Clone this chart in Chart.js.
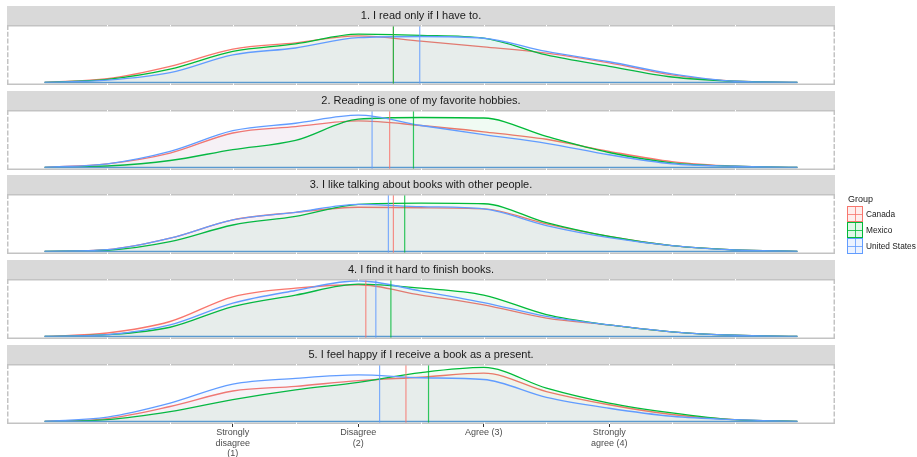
<!DOCTYPE html>
<html>
<head>
<meta charset="utf-8">
<script src="https://cdn.jsdelivr.net/npm/chart.js@4.4.1/dist/chart.umd.min.js"></script>
<style>
  html, body { margin: 0; padding: 0; background: #ffffff; }
  body { width: 917px; height: 457px; position: relative; overflow: hidden;
         font-family: "Liberation Sans", Arial, Helvetica, sans-serif; }
  .panel { position: absolute; left: 0; }
  .legend-title { position: absolute; left: 848px; top: 193px; font-size: 9px; line-height: 12px; color: #1a1a1a; }
  .key { position: absolute; left: 847px; width: 16px; height: 16px; box-sizing: border-box; border: 1px solid; }
  .key .v { position: absolute; left: 6.5px; top: 0; width: 1px; height: 100%; }
  .key .h { position: absolute; top: 6.5px; left: 0; height: 1px; width: 100%; }
  .key-label { position: absolute; left: 866px; font-size: 8.3px; line-height: 16px; color: #1a1a1a; white-space: nowrap; }
</style>
</head>
<body>
<div id="panels"></div>
<div id="legend"></div>
<script>
// ---- survey items (facets) and groups ----
const questions = [
  '1. I read only if I have to.',
  '2. Reading is one of my favorite hobbies.',
  '3. I like talking about books with other people.',
  '4. I find it hard to finish books.',
  '5. I feel happy if I receive a book as a present.'
];
const groups = ['Canada', 'Mexico', 'United States'];

// ---- density estimates, evaluated on a common grid of response values ----
const densityX = [-0.5, 0, 0.5, 1, 1.5, 2, 2.5, 3, 3.5, 4, 4.5, 5, 5.5];

const canadaDensity = [
  [0, 0.064, 0.28, 0.58, 0.69, 0.81, 0.72, 0.62, 0.51, 0.34, 0.13, 0.02, 0],
  [0, 0.063, 0.25, 0.60, 0.71, 0.81, 0.73, 0.62, 0.49, 0.28, 0.10, 0.02, 0],
  [0, 0.03, 0.23, 0.55, 0.68, 0.77, 0.76, 0.74, 0.48, 0.26, 0.10, 0.025, 0],
  [0, 0.06, 0.26, 0.69, 0.84, 0.90, 0.72, 0.55, 0.32, 0.20, 0.08, 0.02, 0],
  [0, 0.05, 0.26, 0.53, 0.61, 0.71, 0.77, 0.84, 0.52, 0.29, 0.12, 0.03, 0]
];
const mexicoDensity = [
  [0, 0.052, 0.23, 0.54, 0.67, 0.84, 0.82, 0.77, 0.48, 0.28, 0.094, 0.02, 0],
  [0, 0.024, 0.12, 0.31, 0.47, 0.84, 0.87, 0.86, 0.54, 0.26, 0.08, 0.02, 0],
  [0, 0.02, 0.17, 0.46, 0.61, 0.82, 0.84, 0.83, 0.50, 0.26, 0.10, 0.025, 0],
  [0, 0.03, 0.16, 0.52, 0.72, 0.91, 0.84, 0.72, 0.38, 0.20, 0.08, 0.02, 0],
  [0, 0.03, 0.17, 0.38, 0.55, 0.68, 0.85, 0.94, 0.58, 0.32, 0.15, 0.03, 0]
];
const usDensity = [
  [0, 0.04, 0.17, 0.48, 0.60, 0.78, 0.80, 0.77, 0.54, 0.36, 0.15, 0.02, 0],
  [0, 0.063, 0.28, 0.64, 0.77, 0.91, 0.73, 0.57, 0.42, 0.22, 0.064, 0.02, 0],
  [0, 0.03, 0.23, 0.55, 0.68, 0.82, 0.78, 0.74, 0.45, 0.24, 0.10, 0.025, 0],
  [0, 0.03, 0.20, 0.58, 0.80, 0.97, 0.79, 0.59, 0.35, 0.20, 0.08, 0.02, 0],
  [0, 0.076, 0.32, 0.65, 0.75, 0.81, 0.76, 0.73, 0.42, 0.23, 0.09, 0.03, 0]
];

// ---- group means per item (vertical reference lines) ----
const canadaMean = [2.28, 2.25, 2.28, 2.06, 2.38];
const mexicoMean = [2.28, 2.44, 2.37, 2.26, 2.56];
const usMean     = [2.49, 2.11, 2.24, 2.14, 2.17];

// ---- x axis ticks ----
const tickValues = [1, 2, 3, 4];
const tickLabels = [
  ['Strongly', 'disagree', '(1)'],
  ['Disagree', '(2)'],
  ['Agree (3)'],
  ['Strongly', 'agree (4)']
];

// ---- appearance ----
const groupColors = ['#F8766D', '#00BA38', '#619CFF'];
const densityByGroup = [canadaDensity, mexicoDensity, usDensity];
const meanByGroup = [canadaMean, mexicoMean, usMean];
const FONT = '"Liberation Sans", Arial, Helvetica, sans-serif';
const X_MIN = -0.8, X_MAX = 5.8, Y_MIN = -0.045, Y_MAX = 1.0;
const STRIP_H = 19, PLOT_H = 60, AXIS_H = 33;
const PLOT_LEFT = 7, PLOT_RIGHT = 835, PAGE_W = 917;
const plotTops = [25, 110, 194, 279, 364];

function rgba(hex, a) {
  const n = parseInt(hex.slice(1), 16);
  return `rgba(${(n >> 16) & 255},${(n >> 8) & 255},${n & 255},${a})`;
}

// Facet strip, white panel and panel frame
const facetDecor = {
  id: 'facetDecor',
  beforeDraw(chart, args, opts) {
    const { ctx, chartArea: a } = chart;
    ctx.save();
    ctx.fillStyle = '#ffffff';
    ctx.fillRect(a.left, a.top, a.right - a.left, a.bottom - a.top);
    ctx.fillStyle = '#d9d9d9';
    ctx.fillRect(a.left, a.top - STRIP_H, a.right - a.left, STRIP_H);
    ctx.fillStyle = '#1a1a1a';
    ctx.font = '11px ' + FONT;
    ctx.textAlign = 'center';
    ctx.textBaseline = 'middle';
    ctx.fillText(opts.title, (a.left + a.right) / 2, a.top - STRIP_H / 2 + 0.5);
    ctx.restore();
  },
  afterDatasetsDraw(chart) {
    const { ctx, chartArea: a } = chart;
    const xs = chart.scales.x;
    ctx.save();
    ctx.strokeStyle = '#c3c3c3';
    ctx.lineWidth = 1.5;
    ctx.beginPath();
    ctx.moveTo(a.left, a.top + 0.75); ctx.lineTo(a.right, a.top + 0.75);
    ctx.moveTo(a.left, a.bottom - 0.75); ctx.lineTo(a.right, a.bottom - 0.75);
    ctx.stroke();
    ctx.setLineDash([5, 1.8]);
    ctx.beginPath();
    ctx.moveTo(a.left + 0.75, a.top); ctx.lineTo(a.left + 0.75, a.bottom);
    ctx.moveTo(a.right - 0.75, a.top); ctx.lineTo(a.right - 0.75, a.bottom);
    ctx.stroke();
    ctx.setLineDash([]);
    // white grid notches crossing the frame
    ctx.strokeStyle = '#ffffff';
    ctx.lineWidth = 1;
    ctx.beginPath();
    for (let v = 0; v <= 5; v += 0.5) {
      const px = Math.round(xs.getPixelForValue(v)) + 0.5;
      ctx.moveTo(px, a.top); ctx.lineTo(px, a.top + 1.5);
      ctx.moveTo(px, a.bottom - 1.5); ctx.lineTo(px, a.bottom);
    }
    ctx.stroke();
    ctx.restore();
  }
};

const panelsEl = document.getElementById('panels');

questions.forEach((title, q) => {
  const last = q === questions.length - 1;
  const h = STRIP_H + PLOT_H + (last ? AXIS_H : 0);
  const wrap = document.createElement('div');
  wrap.className = 'panel';
  wrap.style.top = (plotTops[q] - STRIP_H) + 'px';
  wrap.style.width = PAGE_W + 'px';
  wrap.style.height = h + 'px';
  const canvas = document.createElement('canvas');
  canvas.width = PAGE_W;
  canvas.height = h;
  canvas.style.width = PAGE_W + 'px';
  canvas.style.height = h + 'px';
  wrap.appendChild(canvas);
  panelsEl.appendChild(wrap);

  const densitySets = groups.map((g, i) => ({
    label: g,
    data: densityX.map((x, k) => ({ x, y: densityByGroup[i][q][k] })),
    borderColor: groupColors[i],
    backgroundColor: rgba(groupColors[i], 0.06),
    fill: 'origin',
    borderWidth: 1.35,
    pointRadius: 0,
    cubicInterpolationMode: 'monotone',
    order: 10 - i
  }));
  const baseline = {
    label: 'baseline',
    data: [{ x: densityX[0], y: 0 }, { x: densityX[densityX.length - 1], y: 0 }],
    borderColor: '#5a9ad0',
    borderWidth: 1.5,
    pointRadius: 0,
    fill: false,
    order: 5
  };
  const meanSets = groups.map((g, i) => ({
    label: g + ' mean',
    data: [{ x: meanByGroup[i][q], y: Y_MIN }, { x: meanByGroup[i][q], y: Y_MAX }],
    borderColor: rgba(groupColors[i], 0.8),
    borderWidth: 1.2,
    pointRadius: 0,
    fill: false,
    order: 3 - i
  }));

  const xScale = {
    type: 'linear',
    min: X_MIN,
    max: X_MAX,
    display: last,
    border: { display: false },
    grid: { drawOnChartArea: false, drawTicks: true, tickLength: 3, color: '#333333', lineWidth: 1 },
    afterBuildTicks: (s) => { s.ticks = tickValues.map(v => ({ value: v })); },
    ticks: {
      autoSkip: false,
      maxRotation: 0,
      minRotation: 0,
      padding: 0.5,
      color: '#4d4d4d',
      font: { size: 9, family: FONT, lineHeight: 1.15 },
      callback: (v) => {
        const k = tickValues.indexOf(v);
        return k >= 0 ? tickLabels[k] : '';
      }
    }
  };
  if (last) xScale.afterFit = (s) => { s.height = AXIS_H; };

  new Chart(canvas, {
    type: 'line',
    data: { datasets: [...densitySets, baseline, ...meanSets] },
    plugins: [facetDecor],
    options: {
      responsive: false,
      animation: false,
      devicePixelRatio: 1,
      events: [],
      layout: { padding: { left: PLOT_LEFT, right: PAGE_W - PLOT_RIGHT, top: STRIP_H, bottom: 0 } },
      plugins: {
        legend: { display: false },
        tooltip: { enabled: false },
        facetDecor: { title }
      },
      scales: {
        x: xScale,
        y: { type: 'linear', min: Y_MIN, max: Y_MAX, display: false }
      }
    }
  });
});

// Legend
const legendEl = document.getElementById('legend');
const lt = document.createElement('div');
lt.className = 'legend-title';
lt.textContent = 'Group';
legendEl.appendChild(lt);
groups.forEach((g, i) => {
  const top = 206 + 16 * i;
  const key = document.createElement('div');
  key.className = 'key';
  key.style.top = top + 'px';
  key.style.borderColor = groupColors[i];
  key.style.background = rgba(groupColors[i], 0.12);
  const v = document.createElement('div'); v.className = 'v'; v.style.background = rgba(groupColors[i], 0.8);
  const hl = document.createElement('div'); hl.className = 'h'; hl.style.background = rgba(groupColors[i], 0.8);
  key.appendChild(v); key.appendChild(hl);
  legendEl.appendChild(key);
  const lab = document.createElement('div');
  lab.className = 'key-label';
  lab.style.top = top + 'px';
  lab.textContent = g;
  legendEl.appendChild(lab);
});
</script>
</body>
</html>
